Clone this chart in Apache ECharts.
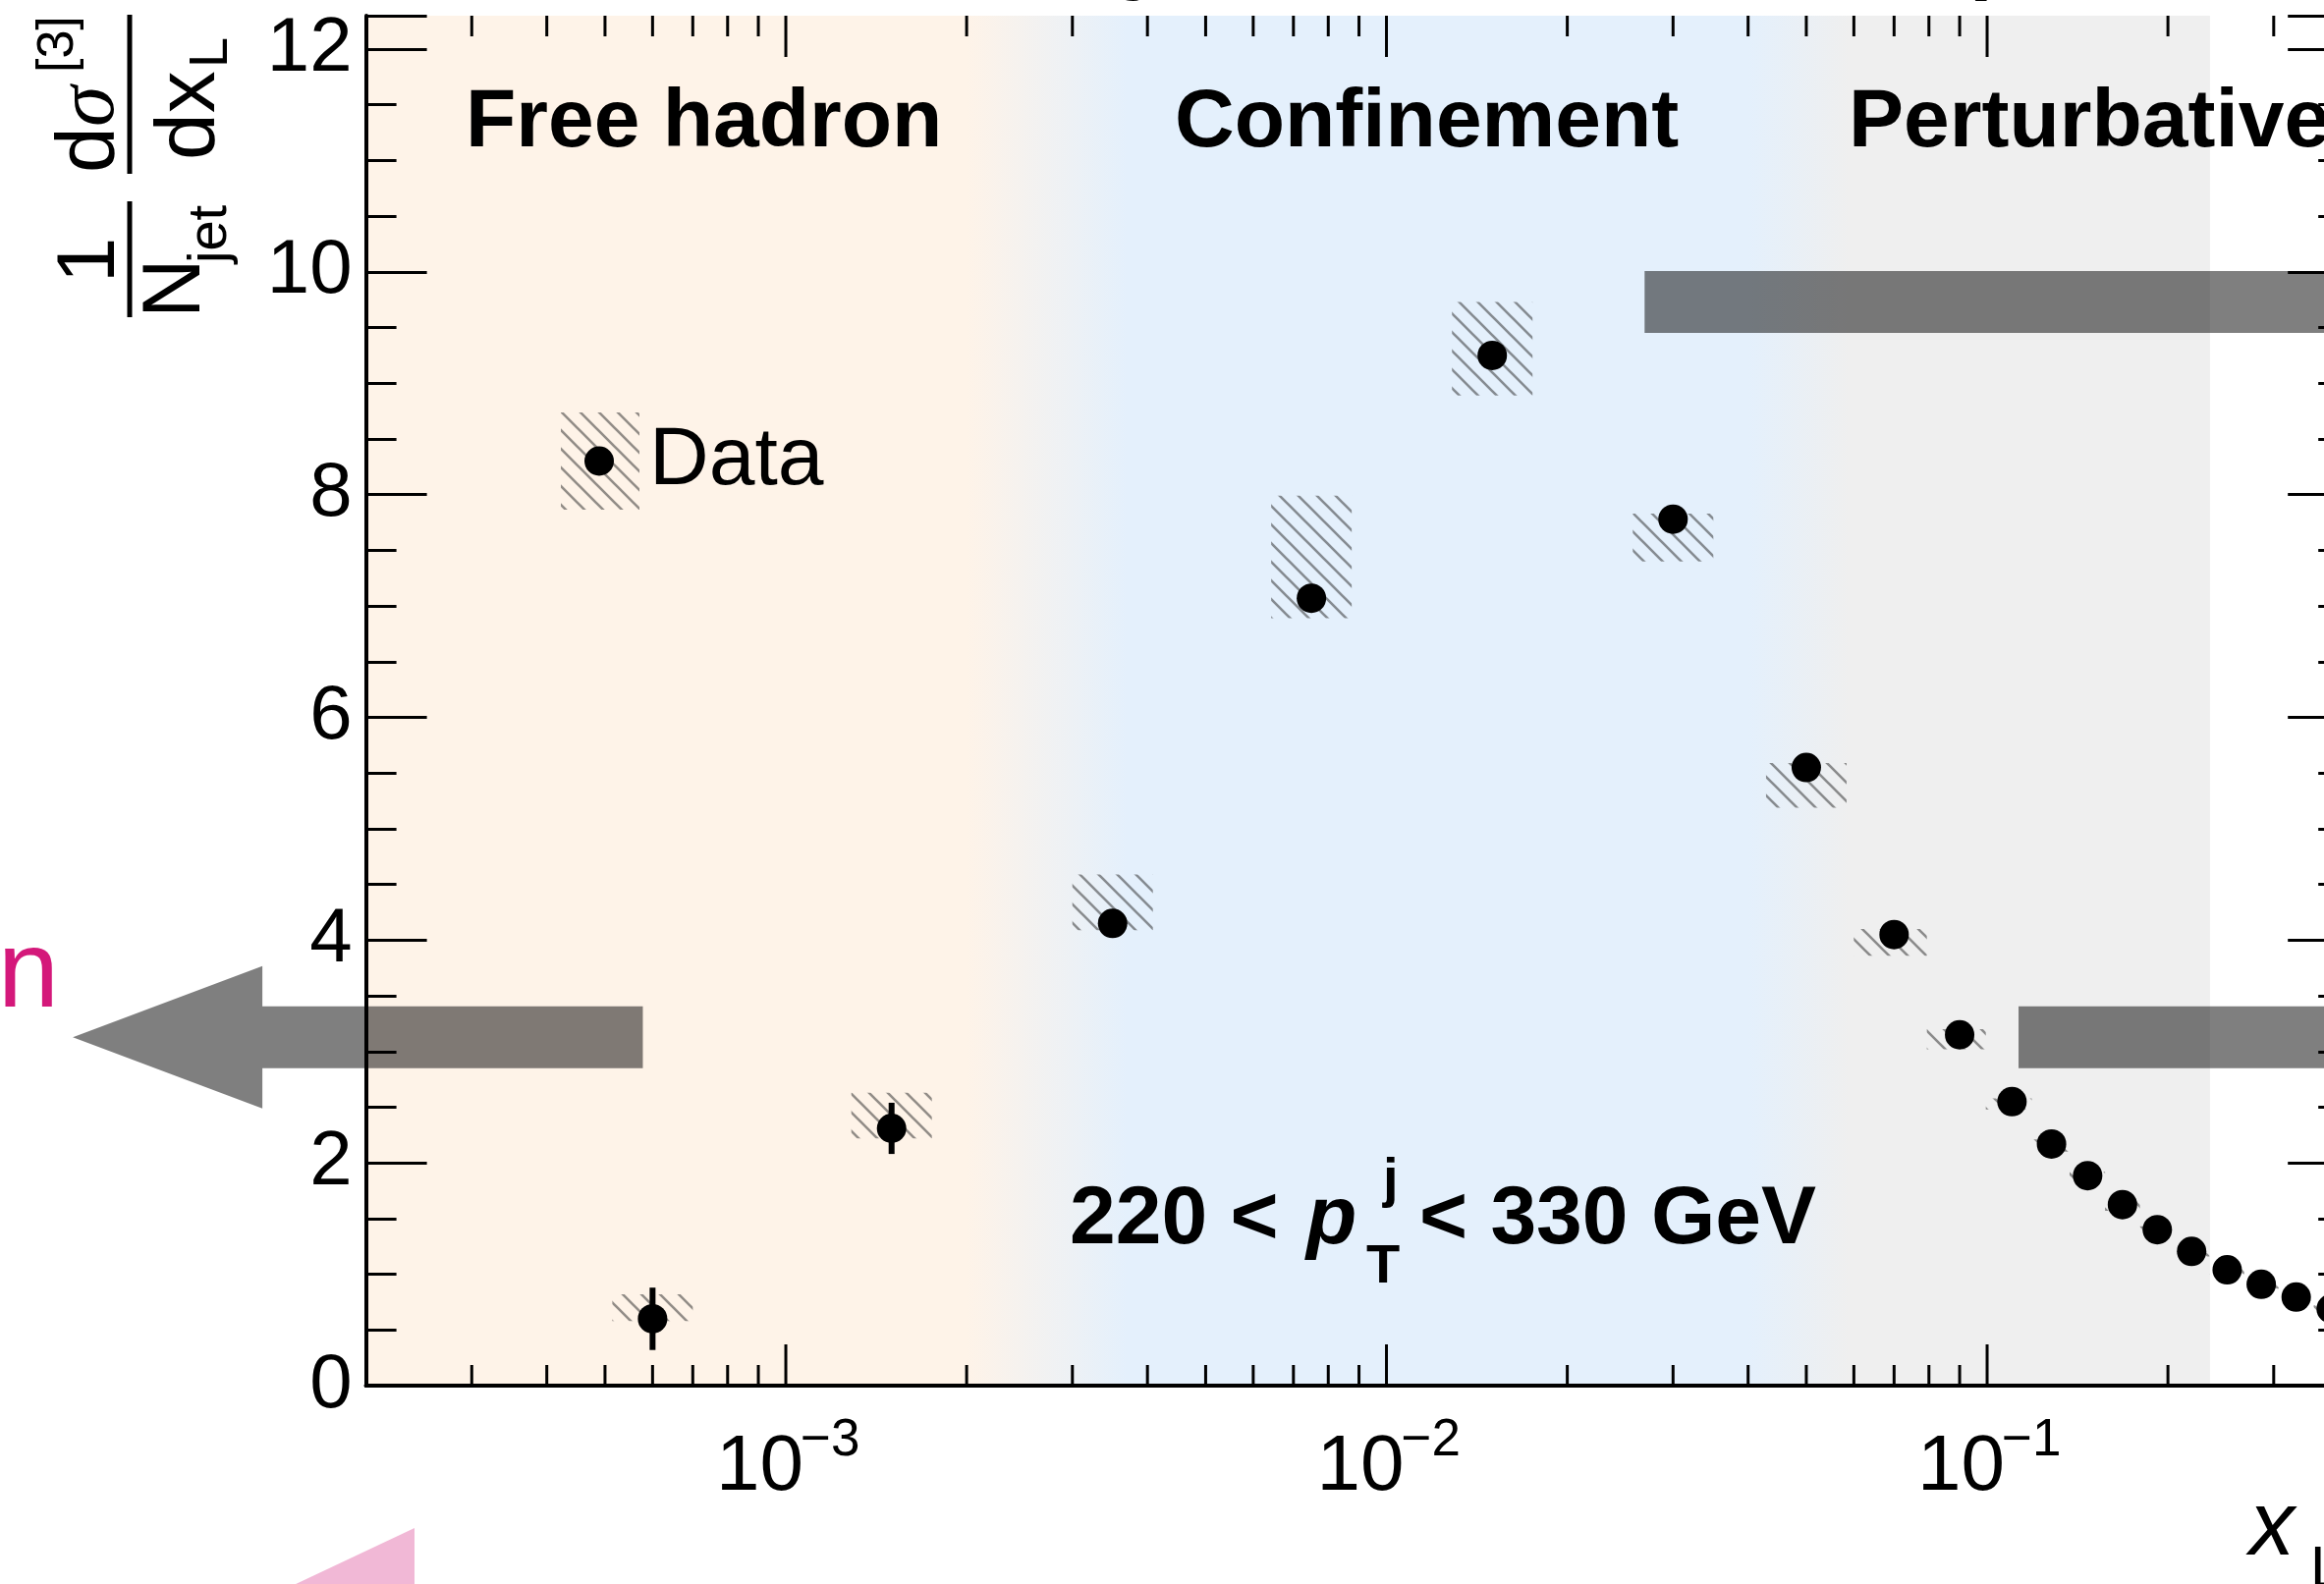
<!DOCTYPE html>
<html><head><meta charset="utf-8">
<script src="https://cdn.jsdelivr.net/npm/echarts@6/dist/echarts.min.js"></script>
<style>html,body{margin:0;padding:0;background:#fff}#c{width:2366px;height:1613px}</style>
</head><body><div id="c"></div>
<script>
// ---------------- data ----------------
const xL      = [0.0006, 0.0015, 0.0035, 0.0075, 0.015, 0.030, 0.050, 0.070, 0.090, 0.110, 0.128, 0.147, 0.168, 0.192, 0.219, 0.251, 0.286, 0.327, 0.374];
const yVal    = [0.60, 2.31, 4.15, 7.07, 9.25, 7.78, 5.55, 4.05, 3.15, 2.55, 2.17, 1.885, 1.625, 1.40, 1.205, 1.04, 0.91, 0.795, 0.69];
const statErr = [0.28, 0.23, 0.10, 0.10, 0.08, 0.06, 0.05, 0.04, 0.03, 0.03, 0.02, 0.02, 0.02, 0.02, 0.02, 0.02, 0.02, 0.02, 0.02];
const sysLow  = [0.58, 2.22, 4.09, 6.89, 8.89, 7.40, 5.19, 3.86, 3.02, 2.48, 2.10, 1.83, 1.57, 1.35, 1.16, 1.00, 0.87, 0.76, 0.66];
const sysHigh = [0.82, 2.63, 4.59, 7.99, 9.73, 7.83, 5.59, 4.10, 3.20, 2.58, 2.21, 1.92, 1.66, 1.43, 1.23, 1.07, 0.94, 0.82, 0.72];

const xMajorTicks = [0.001, 0.01, 0.1];
const xMajorExponents = ['\u22123', '\u22122', '\u22121'];
const xMinorTicks = [0.0003,0.0004,0.0005,0.0006,0.0007,0.0008,0.0009,
                     0.002,0.003,0.004,0.005,0.006,0.007,0.008,0.009,
                     0.02,0.03,0.04,0.05,0.06,0.07,0.08,0.09,
                     0.2,0.3];
const X_MIN = 0.0002, X_MAX = 0.4, Y_MIN = 0, Y_MAX = 12.3;

// regime boundaries (x): orange | fade | blue | fade | grey | white
const regionEdges = [0.0002, 0.0020, 0.0037, 0.040, 0.059, 0.235];
const regionNames = ['Free hadron', 'Confinement', 'Perturbative'];

// grey annotation arrows: tail x, tip x, centre y
const arrowTail = [0.000578, 0.0269, 0.1128];
const arrowTip  = [0.000065, 0.9,    0.9];
const arrowY    = [3.128,    9.73,   3.128];

// ---------------- style ----------------
const FONT = 'Liberation Sans';
const C_OR = '#FEF3E8', C_BL = '#E4F0FC', C_GR = '#EFEFEF';
const HATCH_MAX_W = 82;

function makeHatch() {
  const s = 19;
  const cv = document.createElement('canvas'); cv.width = s; cv.height = s;
  const ctx = cv.getContext('2d');
  ctx.strokeStyle = 'rgba(40,40,40,0.5)'; ctx.lineWidth = 2.6;
  ctx.beginPath();
  for (const k of [-1, 0, 1]) { ctx.moveTo(k * s - 2, -2); ctx.lineTo(k * s + s + 2, s + 2); }
  ctx.stroke();
  return cv;
}
const hatchImg = makeHatch();
const hatchFill = { image: hatchImg, repeat: 'repeat' };

function txt(text, x, baseline, size, opts) {
  return { type: 'text', z: 50, silent: true,
    style: Object.assign({ text: text, x: x, y: baseline - 0.35 * size, fontSize: size, fontFamily: FONT,
      fill: '#000', align: 'left', verticalAlign: 'middle' }, opts || {}) };
}

const chart = echarts.init(document.getElementById('c'), null, { renderer: 'canvas' });

const axisLineStyle = { color: '#000', width: 4 };
const tickStyle = { color: '#000', width: 3 };

const option = {
  animation: false,
  backgroundColor: '#fff',
  grid: { left: 372.6, top: 16, width: 2018.6, height: 1395, containLabel: false, outerBoundsMode: 'none' },
  xAxis: [
    { type: 'log', logBase: 10, min: X_MIN, max: X_MAX, position: 'bottom', z: 3,
      axisLine: { show: true, lineStyle: axisLineStyle }, axisTick: { show: false },
      axisLabel: { show: false }, splitLine: { show: false }, minorTick: { show: false } },
    { type: 'log', logBase: 10, min: X_MIN, max: X_MAX, position: 'top', z: 3,
      axisLine: { show: true, lineStyle: axisLineStyle }, axisTick: { show: false },
      axisLabel: { show: false }, splitLine: { show: false } }
  ],
  yAxis: [
    { type: 'value', min: Y_MIN, max: Y_MAX, interval: 2, position: 'left', z: 3,
      axisLine: { show: true, lineStyle: axisLineStyle },
      axisTick: { show: true, inside: true, length: 62, lineStyle: tickStyle },
      axisLabel: { show: true, margin: 14, fontSize: 78, fontFamily: FONT, color: '#000',
        formatter: v => (Math.abs(v / 2 - Math.round(v / 2)) < 1e-6 ? String(Math.round(v)) : '') },
      splitLine: { show: false } },
    { type: 'value', min: Y_MIN, max: Y_MAX, interval: 0.5, position: 'left', z: 3,
      axisLine: { show: false },
      axisTick: { show: true, inside: true, length: 31, lineStyle: tickStyle },
      axisLabel: { show: false }, splitLine: { show: false } },
    { type: 'value', min: Y_MIN, max: Y_MAX, interval: 2, position: 'right', z: 3,
      axisLine: { show: true, lineStyle: axisLineStyle },
      axisTick: { show: true, inside: true, length: 62, lineStyle: tickStyle },
      axisLabel: { show: false }, splitLine: { show: false } },
    { type: 'value', min: Y_MIN, max: Y_MAX, interval: 0.5, position: 'right', z: 3,
      axisLine: { show: false },
      axisTick: { show: true, inside: true, length: 31, lineStyle: tickStyle },
      axisLabel: { show: false }, splitLine: { show: false } }
  ],
  series: [
    // background regimes
    { type: 'custom', z: 1, silent: true, clip: false,
      data: [[regionEdges[0], regionEdges[regionEdges.length - 1]]],
      renderItem(params, api) {
        const p0 = api.coord([regionEdges[0], Y_MAX]);
        const p1 = api.coord([regionEdges[regionEdges.length - 1], Y_MIN]);
        const W = p1[0] - p0[0];
        const off = regionEdges.map(e => (api.coord([e, Y_MIN])[0] - p0[0]) / W);
        const stops = [
          { offset: 0, color: C_OR }, { offset: off[1], color: C_OR },
          { offset: off[2], color: C_BL }, { offset: off[3], color: C_BL },
          { offset: off[4], color: C_GR }, { offset: 1, color: C_GR }];
        return { type: 'rect', shape: { x: p0[0], y: p0[1], width: W, height: p1[1] - p0[1] },
          style: { fill: new echarts.graphic.LinearGradient(0, 0, 1, 0, stops) } };
      } },
    // x ticks (bottom + top)
    { type: 'custom', z: 3, silent: true, clip: false,
      data: xMajorTicks.map(v => [v, 1]).concat(xMinorTicks.map(v => [v, 0])),
      renderItem(params, api) {
        const v = api.value(0), major = api.value(1) === 1;
        const b = api.coord([v, Y_MIN]), t = api.coord([v, Y_MAX]);
        const len = major ? 42 : 21;
        return { type: 'group', children: [
          { type: 'line', shape: { x1: b[0], y1: b[1], x2: b[0], y2: b[1] - len }, style: { stroke: '#000', lineWidth: 3 } },
          { type: 'line', shape: { x1: t[0], y1: t[1], x2: t[0], y2: t[1] + len }, style: { stroke: '#000', lineWidth: 3 } }
        ] };
      } },
    // x labels 10^n
    { type: 'custom', z: 3, silent: true, clip: false,
      data: xMajorTicks.map((v, i) => [v, 0, i]),
      renderItem(params, api) {
        const v = api.value(0), i = api.value(2);
        const b = api.coord([v, Y_MIN]);
        const base = b[1] + 112, supBase = b[1] + 75;
        return { type: 'group', children: [
          { type: 'text', style: { text: '10', x: b[0] + 18, y: base - 0.35 * 80, fontSize: 80, fontFamily: FONT,
              fill: '#000', align: 'right', verticalAlign: 'middle' } },
          { type: 'text', style: { text: xMajorExponents[i], x: b[0] + 15, y: supBase - 0.35 * 53, fontSize: 53, fontFamily: FONT,
              fill: '#000', align: 'left', verticalAlign: 'middle' } }
        ] };
      } },
    // systematic hatched boxes
    { type: 'custom', z: 4, silent: true, clip: false,
      data: xL.map((x, i) => [x, sysLow[i], sysHigh[i]]),
      renderItem(params, api) {
        const i = params.dataIndex;
        const x = api.value(0), lo = api.value(1), hi = api.value(2);
        const pLo = api.coord([x, lo]), pHi = api.coord([x, hi]);
        let hl = HATCH_MAX_W / 2, hr = HATCH_MAX_W / 2;
        if (i > 0) hl = Math.min(hl, pLo[0] - api.coord([Math.sqrt(xL[i - 1] * x), lo])[0]);
        if (i < xL.length - 1) hr = Math.min(hr, api.coord([Math.sqrt(xL[i + 1] * x), lo])[0] - pLo[0]);
        return { type: 'rect', shape: { x: pLo[0] - hl, y: pHi[1], width: hl + hr, height: pLo[1] - pHi[1] },
          style: { fill: hatchFill } };
      } },
    // statistical error bars
    { type: 'custom', z: 5, silent: true, clip: false,
      data: xL.map((x, i) => [x, yVal[i] - statErr[i], yVal[i] + statErr[i]]),
      renderItem(params, api) {
        const a = api.coord([api.value(0), api.value(1)]), b = api.coord([api.value(0), api.value(2)]);
        return { type: 'line', shape: { x1: a[0], y1: a[1], x2: b[0], y2: b[1] }, style: { stroke: '#000', lineWidth: 6 } };
      } },
    // data points
    { type: 'scatter', z: 6, silent: true, symbol: 'circle', symbolSize: 30,
      itemStyle: { color: '#000', opacity: 1, borderWidth: 0 }, emphasis: { disabled: true },
      data: xL.map((x, i) => [x, yVal[i]]) },
    // grey arrows
    { type: 'custom', z: 8, silent: true, clip: false,
      data: arrowTail.map((t, i) => [t, arrowY[i], arrowTip[i]]),
      renderItem(params, api) {
        const t = api.coord([api.value(0), api.value(1)]);
        const h = api.coord([api.value(2), api.value(1)]);
        const d = h[0] > t[0] ? 1 : -1, y = t[1];
        const hb = h[0] - d * 193, bw = 31.5, hw = 72.5;
        return { type: 'polygon', shape: { points: [
          [t[0], y - bw], [hb, y - bw], [hb, y - hw], [h[0], y], [hb, y + hw], [hb, y + bw], [t[0], y + bw]] },
          style: { fill: 'rgba(0,0,0,0.5)' } };
      } }
  ],
  graphic: [
    // title fragments cut by the top edge
    txt('y', 1150, -10, 84, { fontWeight: 'bold', fontStyle: 'italic' }),
    txt('(', 1995, -10, 84, { fontWeight: 'bold' }),
    // regime labels
    txt(regionNames[0], 474, 155, 84, { fontWeight: 'bold' }),
    txt(regionNames[1], 1196, 155, 84, { fontWeight: 'bold' }),
    txt(regionNames[2], 1882, 155, 84, { fontWeight: 'bold' }),
    // legend
    { type: 'rect', z: 45, silent: true, shape: { x: 571, y: 420, width: 80, height: 99 }, style: { fill: hatchFill } },
    { type: 'circle', z: 46, silent: true, shape: { cx: 610, cy: 469.5, r: 15 }, style: { fill: '#000' } },
    txt('Data', 661, 499, 84),
    // kinematic range
    txt('220 <', 1089, 1272, 84, { fontWeight: 'bold' }),
    txt('p', 1330, 1272, 84, { fontWeight: 'bold', fontStyle: 'italic' }),
    txt('j', 1408, 1222, 56, { fontWeight: 'bold' }),
    txt('T', 1391, 1310, 56, { fontWeight: 'bold' }),
    txt('< 330 GeV', 1445, 1272, 84, { fontWeight: 'bold' }),
    // x-axis title
    txt('x', 2290, 1590, 92, { fontStyle: 'italic' }),
    txt('L', 2352, 1620, 60),
    // pink fragments outside the frame
    txt('n', 60, 1033, 112, { fill: '#D4187A', align: 'right' }),
    { type: 'polygon', z: 40, silent: true, shape: { points: [[280, 1623], [422, 1556], [422, 1623]] }, style: { fill: '#F1B8D6' } },
    // y-axis title (rotated)
    { type: 'group', x: 0, y: 340, rotation: Math.PI / 2, z: 50, children: [
      txt('1', 75, 122, 84, { align: 'center' }),
      { type: 'line', shape: { x1: 17, y1: 132, x2: 135, y2: 132 }, style: { stroke: '#000', lineWidth: 5 } },
      txt('N', 16, 209, 84),
      txt('jet', 72, 234, 56),
      { type: 'line', shape: { x1: 163, y1: 132, x2: 325, y2: 132 }, style: { stroke: '#000', lineWidth: 5 } },
      txt('d', 164, 122, 84),
      txt('\u03C3', 211, 122, 84, { fontFamily: 'Liberation Serif', fontStyle: 'italic' }),
      txt('[3]', 266, 78, 52),
      txt('dx', 177, 224, 86),
      txt('L', 271, 235, 56)
    ] }
  ]
};
chart.setOption(option);
</script></body></html>
